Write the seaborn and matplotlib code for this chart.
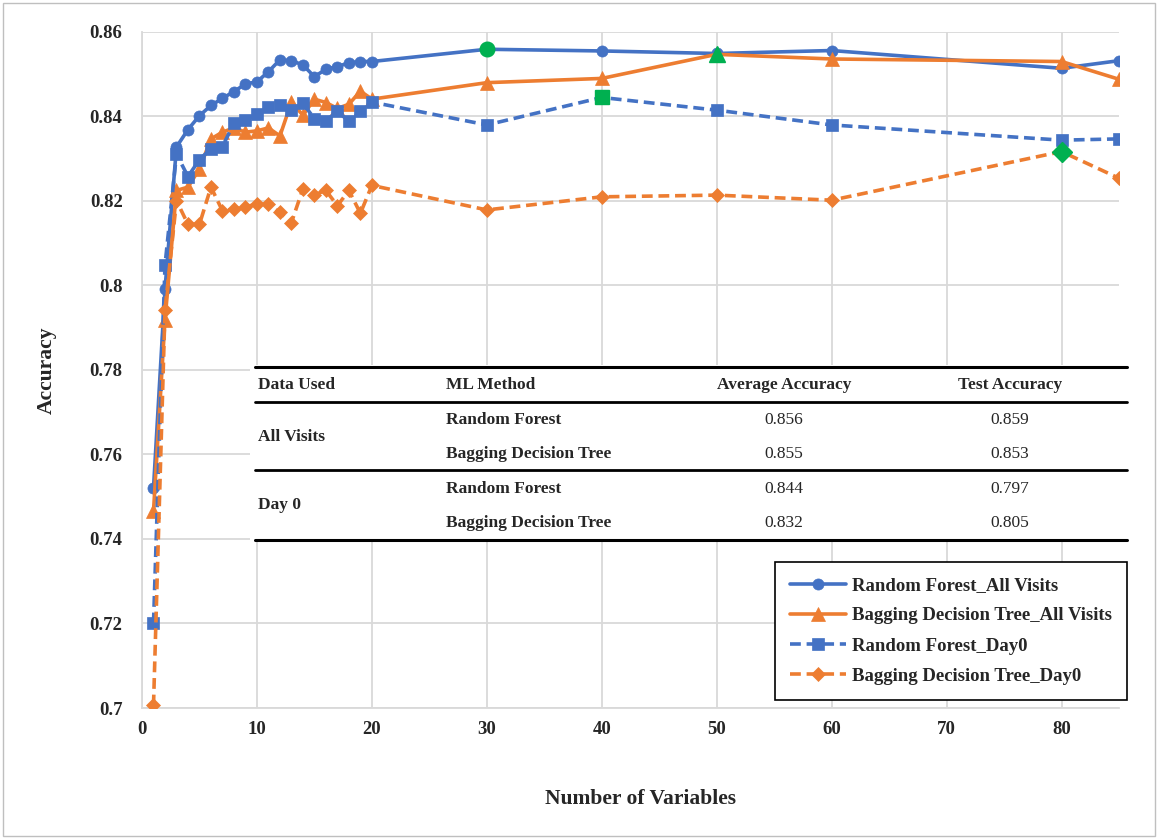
import pandas as pd
import matplotlib.pyplot as plt
import matplotlib.patches as mpatches
import seaborn as sns

# =================== Data ===================
n_vars = [1, 2, 3, 4, 5, 6, 7, 8, 9, 10, 11, 12, 13, 14, 15, 16, 17, 18, 19, 20,
          30, 40, 50, 60, 80, 85]

rf_all = [0.752, 0.799, 0.8327, 0.8368, 0.8401, 0.8425, 0.8442, 0.8458, 0.8476, 0.8481,
          0.8505, 0.8533, 0.8531, 0.8521, 0.8493, 0.8511, 0.8517, 0.8526, 0.8529, 0.8529,
          0.8558, 0.8554, 0.8548, 0.8555, 0.8513, 0.8531]

bdt_all = [0.7465, 0.7918, 0.8224, 0.8232, 0.8275, 0.8346, 0.8362, 0.8372, 0.8362, 0.8365,
           0.8372, 0.8353, 0.8433, 0.8402, 0.8440, 0.8432, 0.8418, 0.8428, 0.8459, 0.8440,
           0.8479, 0.8489, 0.8546, 0.8535, 0.8529, 0.8487]

rf_day0 = [0.720, 0.8047, 0.831, 0.8257, 0.8297, 0.8323, 0.8328, 0.8383, 0.8390, 0.8404,
           0.8421, 0.8426, 0.8414, 0.8430, 0.8394, 0.8389, 0.8411, 0.8388, 0.8411, 0.8433,
           0.8379, 0.8444, 0.8414, 0.8379, 0.8343, 0.8346]

bdt_day0 = [0.7006, 0.7941, 0.8200, 0.8144, 0.8144, 0.8232, 0.8176, 0.8180, 0.8186, 0.8191,
            0.8192, 0.8172, 0.8148, 0.8228, 0.8214, 0.8224, 0.8188, 0.8224, 0.8170, 0.8236,
            0.8178, 0.8209, 0.8213, 0.8201, 0.8316, 0.8253]

series_names = ["Random Forest_All Visits", "Bagging Decision Tree_All Visits",
                "Random Forest_Day0", "Bagging Decision Tree_Day0"]
best_x = [30, 50, 40, 80]   # highlighted (green) point of each series

# summary table
table_header = ["Data Used", "ML Method", "Average Accuracy", "Test Accuracy"]
table_groups = ["All Visits", "Day 0"]
table_methods = ["Random Forest", "Bagging Decision Tree", "Random Forest", "Bagging Decision Tree"]
avg_acc = ["0.856", "0.855", "0.844", "0.832"]
test_acc = ["0.859", "0.853", "0.797", "0.805"]

# =================== Style ===================
BLUE = "#4472C4"
ORANGE = "#ED7D31"
GREEN = "#00B050"
SERIF = ["Liberation Serif", "DejaVu Serif"]

sns.set_style("white")
plt.rcParams["font.family"] = SERIF

fig = plt.figure(figsize=(11.58, 8.39), dpi=100)
ax = fig.add_axes([142 / 1158, 1 - 708 / 839, 977 / 1158, 676.5 / 839])

df = pd.DataFrame({"n": n_vars, series_names[0]: rf_all, series_names[1]: bdt_all,
                   series_names[2]: rf_day0, series_names[3]: bdt_day0})

styles = [
    (BLUE, "o", "-", 8),
    (ORANGE, "^", "-", 9.5),
    (BLUE, "s", (0, (3, 1.6)), 8),
    (ORANGE, "D", (0, (3, 1.6)), 7.5),
]

for name, (col, mk, ls, ms), bx in zip(series_names, styles, best_x):
    sns.lineplot(data=df, x="n", y=name, ax=ax, color=col, marker=mk, linestyle=ls,
                 linewidth=2.6, markersize=ms, markeredgecolor=col, markeredgewidth=0.5,
                 errorbar=None, label=name, zorder=3)
    best = df[df["n"] == bx]
    ax.plot(best["n"], best[name], linestyle="none", marker=mk, color=GREEN,
            markeredgecolor=GREEN, markersize=ms + 2.5, zorder=4)

# =================== Axes ===================
ax.set_xlim(0, 85)
ax.set_ylim(0.70, 0.86)
ax.set_xticks(range(0, 81, 10))
ax.set_yticks([0.70, 0.72, 0.74, 0.76, 0.78, 0.80, 0.82, 0.84, 0.86])
ax.set_yticklabels(["0.7", "0.72", "0.74", "0.76", "0.78", "0.8", "0.82", "0.84", "0.86"])
ax.tick_params(axis="both", length=0, labelsize=13.5)
ax.tick_params(axis="y", pad=14)
ax.tick_params(axis="x", pad=9)
for lab in ax.get_xticklabels() + ax.get_yticklabels():
    lab.set_fontweight("bold")
ax.grid(True, color="#D9D9D9", linewidth=1.3)
ax.set_axisbelow(True)
for side in ["top", "right"]:
    ax.spines[side].set_visible(False)
for side in ["left", "bottom"]:
    ax.spines[side].set_color("#D9D9D9")
    ax.spines[side].set_linewidth(1.3)

# =================== Table inside plot ===================
def fx(px):
    return (px - 142) / 977

def fy(py):
    return (708 - py) / 676.5

ax.set_xlabel("Number of Variables", fontsize=15.5, fontweight="bold")
ax.set_ylabel("Accuracy", fontsize=15.5, fontweight="bold")
ax.xaxis.set_label_coords(0.51, fy(789))
ax.yaxis.set_label_coords(fx(57), 0.5)

tr = ax.transAxes
ax.add_patch(mpatches.Rectangle((fx(250), fy(542)), fx(1130) - fx(250), fy(365) - fy(542),
                                transform=tr, facecolor="white", edgecolor="none",
                                zorder=5, clip_on=False))
for py, lw in [(367, 2.2), (402, 2.0), (470, 2.0), (540, 2.2)]:
    ax.plot([fx(255), fx(1127)], [fy(py), fy(py)], transform=tr, color="black",
            linewidth=lw, zorder=6, clip_on=False)

tkw = dict(transform=tr, fontsize=12.5, va="center", zorder=7)
ax.text(fx(258), fy(385), table_header[0], ha="left", fontweight="bold", **tkw)
ax.text(fx(446), fy(385), table_header[1], ha="left", fontweight="bold", **tkw)
ax.text(fx(784), fy(385), table_header[2], ha="center", fontweight="bold", **tkw)
ax.text(fx(1010), fy(385), table_header[3], ha="center", fontweight="bold", **tkw)
for grp, py in zip(table_groups, [437, 505]):
    ax.text(fx(258), fy(py), grp, ha="left", fontweight="bold", **tkw)
for meth, a, t, py in zip(table_methods, avg_acc, test_acc, [420, 454, 489, 523]):
    ax.text(fx(446), fy(py), meth, ha="left", fontweight="bold", **tkw)
    ax.text(fx(784), fy(py), a, ha="center", **tkw)
    ax.text(fx(1010), fy(py), t, ha="center", **tkw)

# =================== Legend ===================
leg = ax.legend(loc="lower right", bbox_to_anchor=(fx(1127), fy(700)), borderaxespad=0,
                prop={"family": SERIF, "weight": "bold", "size": 13.5},
                handlelength=3.0, handletextpad=0.3, labelspacing=0.7,
                borderpad=0.8, fancybox=False, framealpha=1, edgecolor="black")
leg.get_frame().set_linewidth(1.2)
leg.set_zorder(8)

# outer chart border
fig.patches.append(mpatches.Rectangle((3 / 1158, 3 / 839), 1152 / 1158, 833 / 839,
                                      transform=fig.transFigure, fill=False,
                                      edgecolor="#BFBFBF", linewidth=1))

fig.savefig("out.png", dpi=100)
